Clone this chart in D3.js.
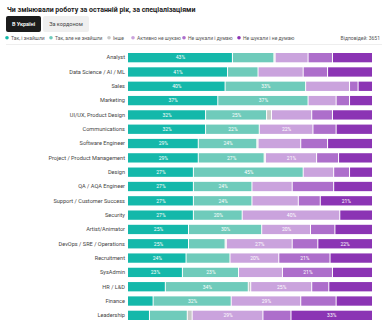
<!DOCTYPE html>
<html>
<head>
<meta charset="utf-8">
<script src="https://cdn.jsdelivr.net/npm/d3@7"></script>
<style>
  body { margin: 0; background: #fff; font-family: Roboto, "Noto Sans", sans-serif; }
</style>
</head>
<body>
<div id="chart"></div>
<script>
const categories = [
    "Analyst", "Data Science / AI / ML", "Sales", "Marketing", "UI/UX, Product Design",
    "Communications", "Software Engineer", "Project / Product Management", "Design",
    "QA / AQA Engineer", "Support / Customer Success", "Security", "Artist/Animator",
    "DevOps / SRE / Operations", "Recruitment", "SysAdmin", "HR / L&D", "Finance", "Leadership"
];

const seriesNames = ["Так, і знайшли", "Так, але не знайшли", "Інше", "Активно не шукаю", "Не шукали і думаю", "Не шукали і не думаю"];
const seriesColors = ["#14b8aa", "#6fcbbb", "#c8c8c8", "#caa3dd", "#ad6ecb", "#8b34b4"];

const foundJob = [43, 41, 40, 37, 32, 32, 29, 29, 27, 27, 27, 27, 25, 25, 24, 22.5, 15.5, 10.5, 9];
const notFound = [17, 12.5, 33, 37, 25, 22, 24, 27, 45, 24, 24, 20, 30, 15, 18, 23, 34, 32, 15.5];
const other = [0.5, 0, 0, 0, 2, 0, 0.5, 0.5, 0, 0, 0, 0, 0, 0.5, 0, 0, 1, 0, 2];
const notLooking = [13.5, 18.5, 18, 11.5, 16.5, 22, 17.5, 21, 12.5, 16.5, 19, 40, 20, 27, 20, 18, 25, 28.5, 29];
const thinking = [10, 10, 3.5, 5.5, 8.5, 9.5, 11, 9, 6.5, 17, 9, 0, 10, 10.5, 21, 20.5, 7, 14.5, 11.5];
const notThinking = [16, 18, 5.5, 9, 16, 14.5, 18, 13.5, 9, 15.5, 21, 13, 15, 22, 17, 16, 17.5, 14.5, 33];

const title = "Чи змінювали роботу за останній рік, за спеціалізаціями";
const tabs = ["В Україні", "За кордоном"];
const respondents = "Відповідей: 3651";

const width = 382;
const height = 329;
const margin = { top: 53, right: 10, bottom: 9, left: 128 };

const svg = d3.select("#chart")
    .append("svg")
    .attr("width", width)
    .attr("height", height);

// title
svg.append("text")
    .attr("x", 7)
    .attr("y", 12)
    .attr("fill", "#222")
    .attr("font-size", 7)
    .attr("font-weight", 700)
    .text(title);

// tabs
const tabX = [6, 43];
const tabW = [35, 46];
tabs.forEach((t, i) => {
    svg.append("rect")
        .attr("x", tabX[i])
        .attr("y", 16)
        .attr("width", tabW[i])
        .attr("height", 16)
        .attr("rx", 2)
        .attr("fill", i === 0 ? "#1c1c1c" : "#efefef");
    svg.append("text")
        .attr("x", tabX[i] + tabW[i] / 2)
        .attr("y", 26.2)
        .attr("text-anchor", "middle")
        .attr("font-size", 5.5)
        .attr("font-weight", i === 0 ? 600 : 400)
        .attr("fill", i === 0 ? "#fff" : "#444")
        .text(t);
});

// legend
const legendX = [7, 51, 109, 133, 184, 239];
const legend = svg.append("g").attr("font-size", 5).attr("fill", "#555");
seriesNames.forEach((name, i) => {
    legend.append("circle")
        .attr("cx", legendX[i])
        .attr("cy", 37.8)
        .attr("r", 1.8)
        .attr("fill", seriesColors[i]);
    legend.append("text")
        .attr("x", legendX[i] + 4)
        .attr("y", 39.5)
        .text(name);
});
legend.append("text")
    .attr("x", 380)
    .attr("y", 39.5)
    .attr("text-anchor", "end")
    .text(respondents);

svg.append("line")
    .attr("x1", 6)
    .attr("x2", 382)
    .attr("y1", 44.5)
    .attr("y2", 44.5)
    .attr("stroke", "#eee")
    .attr("stroke-width", 1);

// data table
const series = [foundJob, notFound, other, notLooking, thinking, notThinking];
const rows = categories.map((c, i) => {
    const row = { category: c };
    seriesNames.forEach((s, j) => { row[s] = series[j][i]; });
    return row;
});

const stacked = d3.stack()
    .keys(seriesNames)
    .offset(d3.stackOffsetExpand)(rows);

const x = d3.scaleLinear()
    .domain([0, 1])
    .range([margin.left, width - margin.right]);

const y = d3.scaleBand()
    .domain(categories)
    .range([margin.top, height - margin.bottom])
    .paddingInner(0.35)
    .paddingOuter(0);

const layers = svg.append("g")
    .selectAll("g")
    .data(stacked)
    .join("g")
    .attr("fill", (d, i) => seriesColors[i]);

layers.selectAll("rect")
    .data(d => d)
    .join("rect")
    .attr("x", d => x(d[0]))
    .attr("y", d => y(d.data.category))
    .attr("width", d => Math.max(0, x(d[1]) - x(d[0]) - (d[1] < 0.999 ? 1 : 0)))
    .attr("height", y.bandwidth());

// segment labels
layers.each(function (layer) {
    d3.select(this).selectAll("text")
        .data(layer.filter(d => d.data[layer.key] >= 19.5))
        .join("text")
        .attr("x", d => (x(d[0]) + x(d[1])) / 2)
        .attr("y", d => y(d.data.category) + y.bandwidth() / 2 + 1.8)
        .attr("text-anchor", "middle")
        .attr("font-size", 5)
        .attr("fill", "#fff")
        .text(d => Math.round(d.data[layer.key]) + "%");
});

// category axis
svg.append("g")
    .attr("transform", `translate(${margin.left - 3},0)`)
    .call(d3.axisLeft(y).tickSize(0).tickPadding(0))
    .call(g => g.select(".domain").remove())
    .call(g => g.selectAll("text")
        .attr("font-size", 5.6)
        .attr("font-family", "Roboto, sans-serif")
        .attr("fill", "#444"));
</script>
</body>
</html>
